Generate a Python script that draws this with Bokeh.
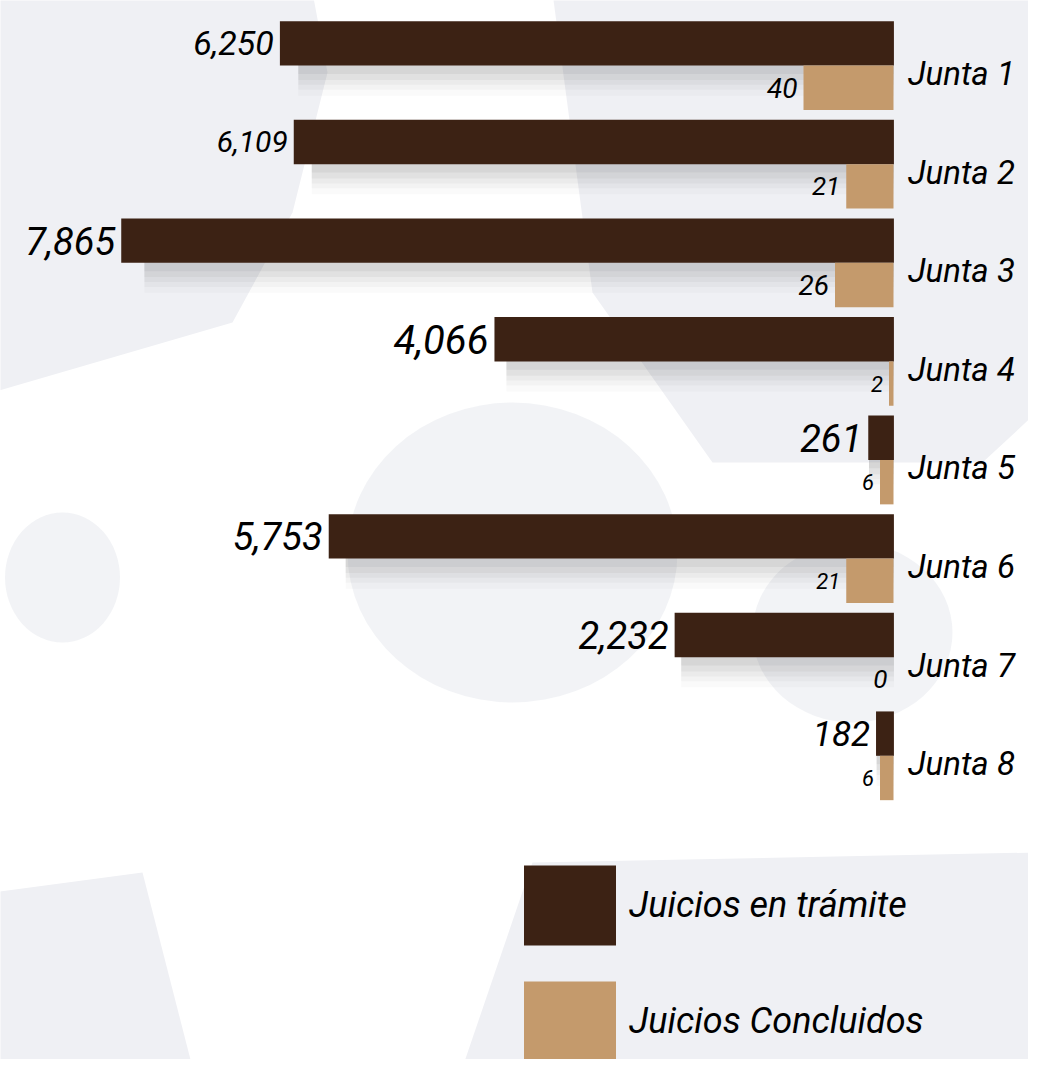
from bokeh.plotting import figure
from bokeh.models import Range1d, Legend, LegendItem, ColumnDataSource
from bokeh.core.properties import value
from bokeh.embed import file_html
from bokeh.resources import INLINE

# ---- data ----
juntas = ["Junta 1", "Junta 2", "Junta 3", "Junta 4", "Junta 5", "Junta 6", "Junta 7", "Junta 8"]
en_tramite = [6250, 6109, 7865, 4066, 261, 5753, 2232, 182]
concluidos = [40, 21, 26, 2, 6, 21, 0, 6]
tramite_labels = ["6,250", "6,109", "7,865", "4,066", "261", "5,753", "2,232", "182"]
concluidos_labels = ["40", "21", "26", "2", "6", "21", "0", "6"]

# ---- styles ----
DARK = "#3C2214"
TAN = "#C49A6C"
BG_GRAY = "#EFF0F4"
FONT = value("Roboto")
tramite_label_sizes = ["34px", "30px", "38px", "40px", "38px", "38px", "38px", "35px"]
concl_label_sizes = ["28px", "26px", "28px", "22px", "22px", "22px", "26px", "22px"]

W, H = 1028, 1059
p = figure(width=W, height=H, output_backend="svg", toolbar_location=None,
           x_range=Range1d(9094, -1370), y_range=Range1d(10.08, -0.66),
           min_border=0, outline_line_color=None, background_fill_color="white",
           border_fill_color="white")
p.axis.visible = False
p.grid.visible = False
p.extra_x_ranges = {"small": Range1d(396.9, -60.0), "px": Range1d(8, 1036)}
p.extra_y_ranges = {"px": Range1d(1067, 8)}

# ---- decorative background watermark shapes (page pixel coords) ----
shapes_x = [
    [0, 320, 335, 300, 240, 0],
    [560, 1044, 1044, 990, 720, 600],
    [0, 150, 200, 0],
    [540, 1044, 1044, 470],
]
shapes_y = [
    [0, 0, 80, 220, 330, 400],
    [0, 0, 420, 470, 470, 300],
    [900, 880, 1075, 1075],
    [870, 860, 1075, 1075],
]
p.patches(shapes_x, shapes_y, fill_color=BG_GRAY, line_color=None,
          x_range_name="px", y_range_name="px")
p.ellipse(x=[520, 70, 860], y=[560, 585, 640], width=[330, 115, 200], height=[300, 130, 180],
          fill_color=BG_GRAY, fill_alpha=0.8, line_color=None, x_range_name="px", y_range_name="px")

idx = list(range(len(juntas)))
y_dark = [i - 0.225 for i in idx]
y_tan = [i + 0.225 for i in idx]

src = ColumnDataSource(dict(
    y_dark=y_dark, y_tan=y_tan, y_lab=[i + 0.08 for i in idx],
    tram=en_tramite, conc=concluidos, tl=tramite_labels, cl=concluidos_labels,
    tls=tramite_label_sizes, cls=concl_label_sizes, junta=juntas,
))

# soft blurred shadows under dark bars
for dy, hh, a in [(0.06, 0.50, 0.06), (0.10, 0.54, 0.05), (0.14, 0.56, 0.045),
                  (0.18, 0.58, 0.035), (0.22, 0.62, 0.025)]:
    p.hbar(y=[v + dy for v in y_dark], left=0, right=[t * 0.97 for t in en_tramite],
           height=hh, fill_color="#3a3a3a", fill_alpha=a, line_color=None)

r_dark = p.hbar(y="y_dark", left=0, right="tram", height=0.45, source=src,
                fill_color=DARK, line_color=None)
r_tan = p.hbar(y="y_tan", left=0, right="conc", height=0.45, source=src,
               fill_color=TAN, line_color=None, x_range_name="small")

# value labels
p.text(x="tram", y="y_dark", text="tl", source=src, x_offset=-6,
       text_align="right", text_baseline="middle", text_font=FONT,
       text_font_style="italic", text_font_size="tls", text_color="black")
p.text(x="conc", y="y_tan", text="cl", source=src, x_offset=-6, x_range_name="small",
       text_align="right", text_baseline="middle", text_font=FONT,
       text_font_style="italic", text_font_size="cls", text_color="black")

# category labels
p.text(x=0, y="y_lab", text="junta", source=src, x_offset=14,
       text_align="left", text_baseline="middle", text_font=FONT,
       text_font_style="italic", text_font_size="33px", text_color="black")

legend = Legend(items=[LegendItem(label="Juicios en trámite", renderers=[r_dark]),
                       LegendItem(label="Juicios Concluidos", renderers=[r_tan])],
                location=(512, -12), orientation="vertical",
                glyph_width=115, glyph_height=100, spacing=16, padding=0, margin=0,
                label_standoff=2, label_text_font="Roboto", label_text_font_style="italic",
                label_text_font_size="36px", label_text_color="black",
                background_fill_alpha=0, border_line_color=None)
p.add_layout(legend)

open("out.html", "w").write(file_html(p, INLINE))
